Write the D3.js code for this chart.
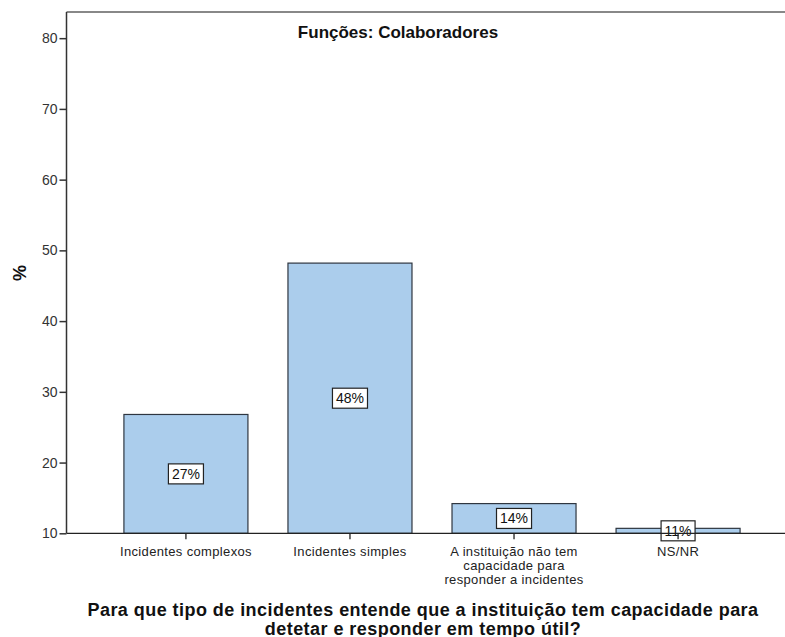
<!DOCTYPE html>
<html><head><meta charset="utf-8">
<script src="https://cdnjs.cloudflare.com/ajax/libs/d3/7.8.5/d3.min.js"></script>
<style>body{margin:0;background:#fff}svg{display:block}</style>
</head><body>
<svg id="c" width="785" height="637"></svg>
<script>
const categories = [
  ["Incidentes complexos"],
  ["Incidentes simples"],
  ["A instituição não tem", "capacidade para", "responder a incidentes"],
  ["NS/NR"]
];
const values = [26.8, 48.2, 14.2, 10.7];
const valueLabels = ["27%", "48%", "14%", "11%"];
const yTicks = [10, 20, 30, 40, 50, 60, 70, 80];
const title = "Funções: Colaboradores";
const yTitle = "%";
const xTitle = ["Para que tipo de incidentes entende que a instituição tem capacidade para", "detetar e responder em tempo útil?"];

(function() {
const svg = d3.select("#c");
const font = "'Liberation Sans', Arial, sans-serif";
const pL = 66.5, pR = 797.5, pT = 12, pB = 533.3;

const x = d3.scaleBand().domain(d3.range(categories.length)).range([pL, pR])
  .paddingInner(0.244).paddingOuter(0.35);
const y = d3.scaleLinear().domain([10, 83.7]).range([pB, pT]);

svg.append("line").attr("x1", pL).attr("x2", 785).attr("y1", pT).attr("y2", pT)
  .attr("stroke", "#888").attr("stroke-width", 2);

svg.selectAll("rect.bar").data(values).join("rect").attr("class", "bar")
  .attr("x", (d, i) => x(i)).attr("width", x.bandwidth())
  .attr("y", d => y(d)).attr("height", d => y(10) - y(d))
  .attr("fill", "#abcdec").attr("stroke", "#2f3640").attr("stroke-width", 1.2);

const lab = svg.selectAll("g.lab").data(values).join("g").attr("class", "lab")
  .attr("transform", (d, i) => `translate(${x(i) + x.bandwidth() / 2},${(y(d) + y(10)) / 2})`);
lab.each(function(d, i) {
  const g = d3.select(this);
  const t = g.append("text").attr("font-family", font).attr("font-size", 14).attr("fill", "#111")
    .attr("text-anchor", "middle").attr("dy", "0.35em").text(valueLabels[i]);
  const bb = t.node().getBBox();
  g.insert("rect", "text").attr("x", bb.x - 3.5).attr("y", -10).attr("width", bb.width + 7).attr("height", 20)
    .attr("fill", "#fff").attr("stroke", "#222").attr("stroke-width", 1.2);
});

const yAxis = svg.append("g").attr("transform", `translate(${pL},0)`)
  .call(d3.axisLeft(y).tickValues(yTicks).tickSize(7).tickPadding(2).tickFormat(d3.format("d")));
yAxis.select(".domain").attr("stroke", "#333").attr("stroke-width", 1.5).attr("d", `M0,${pB}V${pT}`);
yAxis.selectAll(".tick line").attr("stroke", "#333").attr("stroke-width", 1.5);
yAxis.selectAll("text").attr("font-family", font).attr("font-size", 14).attr("fill", "#333");

const xAxis = svg.append("g").attr("transform", `translate(0,${pB})`)
  .call(d3.axisBottom(x).tickSize(6).tickFormat(""));
xAxis.select(".domain").attr("stroke", "#222").attr("stroke-width", 1.3).attr("d", `M${pL},0H785`);
xAxis.selectAll(".tick line").attr("stroke", "#222").attr("stroke-width", 1.3);
xAxis.selectAll(".tick").each(function(d) {
  const t = d3.select(this).append("text").attr("font-family", font).attr("font-size", 13)
    .attr("letter-spacing", 0.35).attr("fill", "#222").attr("text-anchor", "middle");
  categories[d].forEach((line, k) => {
    t.append("tspan").attr("x", 0).attr("y", 22.5 + k * 14).text(line);
  });
});

svg.append("text").attr("x", 398).attr("y", 38).attr("text-anchor", "middle")
  .attr("font-family", font).attr("font-weight", "bold").attr("font-size", 17).attr("fill", "#111").text(title);
svg.append("text").attr("transform", "translate(26,273) rotate(-90)").attr("text-anchor", "middle")
  .attr("font-family", font).attr("font-weight", "bold").attr("font-size", 18).attr("fill", "#111").text(yTitle);
const xt = svg.append("text").attr("text-anchor", "middle").attr("font-family", font)
  .attr("font-weight", "bold").attr("font-size", 18).attr("letter-spacing", 0.45).attr("fill", "#111");
xTitle.forEach((line, k) => xt.append("tspan").attr("x", 423).attr("y", 616 + k * 18.5).text(line));
})();
</script>
</body></html>
